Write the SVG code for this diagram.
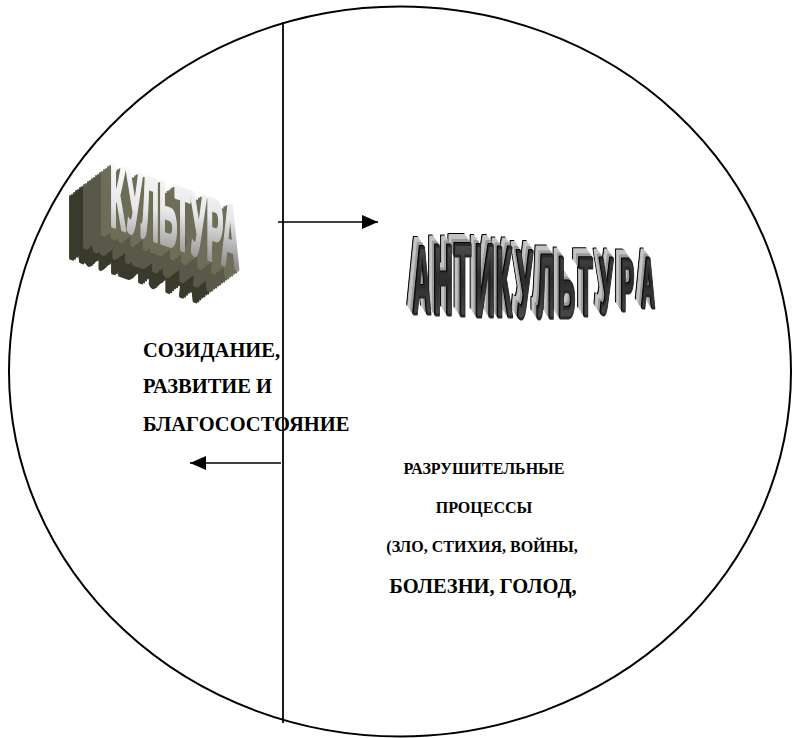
<svg xmlns="http://www.w3.org/2000/svg" width="793" height="738" viewBox="0 0 793 738">
<style>
.lbl{font-family:"Liberation Serif","Times New Roman",serif;font-weight:bold;fill:#000}
.art{font-family:"Liberation Sans",Arial,sans-serif;font-weight:bold}
.conn{stroke:#000;stroke-width:1.6;fill:none}
</style>
<defs>
<marker id="ah" markerUnits="userSpaceOnUse" markerWidth="16" markerHeight="14" refX="16" refY="7" orient="auto">
<path d="M0,0 L16,7 L0,14 z" fill="#000"/>
</marker>
<linearGradient id="gK" x1="0" y1="0" x2="0.3" y2="1">
<stop offset="0" stop-color="#ffffff"/>
<stop offset="0.55" stop-color="#e8e8e8"/>
<stop offset="1" stop-color="#8e8e8e"/>
</linearGradient>
<linearGradient id="gA" x1="0" y1="0" x2="0" y2="1">
<stop offset="0" stop-color="#5e5e5e"/>
<stop offset="0.5" stop-color="#2c2c2c"/>
<stop offset="1" stop-color="#585858"/>
</linearGradient>
<filter id="extK" x="-45%" y="-20%" width="160%" height="170%" color-interpolation-filters="sRGB">
<feFlood flood-color="#3a3a2c" result="c1"/>
<feComposite in="c1" in2="SourceAlpha" operator="in" result="d"/>
<feFlood flood-color="#59594a" result="c2"/>
<feComposite in="c2" in2="SourceAlpha" operator="in" result="m"/>
<feFlood flood-color="#6d6d58" result="c3"/>
<feComposite in="c3" in2="SourceAlpha" operator="in" result="l"/>
<feOffset in="d" dx="-42" dy="32" result="o21"/>
<feOffset in="d" dx="-40" dy="30.5" result="o20"/>
<feOffset in="d" dx="-38" dy="29" result="o19"/>
<feOffset in="d" dx="-36" dy="27.4" result="o18"/>
<feOffset in="d" dx="-34" dy="25.9" result="o17"/>
<feOffset in="d" dx="-32" dy="24.4" result="o16"/>
<feOffset in="d" dx="-30" dy="22.9" result="o15"/>
<feOffset in="m" dx="-28" dy="21.3" result="o14"/>
<feOffset in="m" dx="-26" dy="19.8" result="o13"/>
<feOffset in="m" dx="-24" dy="18.3" result="o12"/>
<feOffset in="m" dx="-22" dy="16.8" result="o11"/>
<feOffset in="m" dx="-20" dy="15.2" result="o10"/>
<feOffset in="m" dx="-18" dy="13.7" result="o9"/>
<feOffset in="m" dx="-16" dy="12.2" result="o8"/>
<feOffset in="m" dx="-14" dy="10.7" result="o7"/>
<feOffset in="m" dx="-12" dy="9.1" result="o6"/>
<feOffset in="l" dx="-10" dy="7.6" result="o5"/>
<feOffset in="l" dx="-8" dy="6.1" result="o4"/>
<feOffset in="l" dx="-6" dy="4.6" result="o3"/>
<feOffset in="l" dx="-4" dy="3" result="o2"/>
<feOffset in="l" dx="-2" dy="1.5" result="o1"/>
<feMerge>
<feMergeNode in="o21"/><feMergeNode in="o20"/><feMergeNode in="o19"/><feMergeNode in="o18"/>
<feMergeNode in="o17"/><feMergeNode in="o16"/><feMergeNode in="o15"/><feMergeNode in="o14"/>
<feMergeNode in="o13"/><feMergeNode in="o12"/><feMergeNode in="o11"/><feMergeNode in="o10"/>
<feMergeNode in="o9"/><feMergeNode in="o8"/><feMergeNode in="o7"/><feMergeNode in="o6"/>
<feMergeNode in="o5"/><feMergeNode in="o4"/><feMergeNode in="o3"/><feMergeNode in="o2"/>
<feMergeNode in="o1"/><feMergeNode in="SourceGraphic"/>
</feMerge>
</filter>
<filter id="extA" x="-10%" y="-30%" width="120%" height="150%" color-interpolation-filters="sRGB">
<feFlood flood-color="#000000" result="c1"/>
<feComposite in="c1" in2="SourceAlpha" operator="in" result="k"/>
<feFlood flood-color="#c4c4c4" result="c2"/>
<feComposite in="c2" in2="SourceAlpha" operator="in" result="g"/>
<feFlood flood-color="#9a9a9a" result="c3"/>
<feComposite in="c3" in2="SourceAlpha" operator="in" result="g2"/>
<feOffset in="k" dx="-7" dy="-10" result="o8"/>
<feOffset in="g" dx="-6" dy="-8.6" result="o7"/>
<feOffset in="g" dx="-5" dy="-7.2" result="o6"/>
<feOffset in="g" dx="-4" dy="-5.8" result="o5"/>
<feOffset in="g2" dx="-3" dy="-4.3" result="o4"/>
<feOffset in="g2" dx="-2" dy="-2.9" result="o3"/>
<feOffset in="k" dx="-1" dy="-1.4" result="o1"/>
<feMerge>
<feMergeNode in="o8"/><feMergeNode in="o7"/><feMergeNode in="o6"/><feMergeNode in="o5"/>
<feMergeNode in="o4"/><feMergeNode in="o3"/><feMergeNode in="o1"/>
<feMergeNode in="SourceGraphic"/>
</feMerge>
</filter>
</defs>
<rect width="793" height="738" fill="#fff"/>
<ellipse id="circle" cx="400" cy="371.5" rx="391" ry="365" fill="none" stroke="#000" stroke-width="2"/>
<line id="divider" x1="283" y1="22" x2="283" y2="723" stroke="#000" stroke-width="1.8"/>
<g id="kultura" filter="url(#extK)">
<text class="art" x="0" y="0" font-size="88" fill="url(#gK)" stroke="url(#gK)" stroke-width="3" vector-effect="non-scaling-stroke" stroke-linejoin="round" transform="translate(110,225) skewY(19) scale(0.29,1)">КУЛЬТУРА</text>
</g>
<g id="antikultura" filter="url(#extA)">
<text class="art" fill="url(#gA)" stroke="#2a2a2a" stroke-width="3" vector-effect="non-scaling-stroke" stroke-linejoin="round" transform="translate(413,0) scale(0.27,1)"><tspan x="0" y="314" font-size="96">А</tspan><tspan x="77" y="315" font-size="100">Н</tspan><tspan x="154" y="316" font-size="103">Т</tspan><tspan x="231" y="317" font-size="103">И</tspan><tspan x="308" y="317" font-size="100">К</tspan><tspan x="385" y="318" font-size="96">У</tspan><tspan x="462" y="318" font-size="91">Л</tspan><tspan x="539" y="318" font-size="88">Ь</tspan><tspan x="616" y="316" font-size="84">Т</tspan><tspan x="693" y="314" font-size="80">У</tspan><tspan x="770" y="311" font-size="75">Р</tspan><tspan x="847" y="308" font-size="70">А</tspan></text>
</g>
<g id="left-text">
<text class="lbl" x="143" y="357" font-size="20.5">СОЗИДАНИЕ,</text>
<text class="lbl" x="143" y="393" font-size="20.5">РАЗВИТИЕ И</text>
<text class="lbl" x="143" y="431" font-size="20.5">БЛАГОСОСТОЯНИЕ</text>
</g>
<g id="right-text" text-anchor="middle">
<text class="lbl" x="484" y="474" font-size="16">РАЗРУШИТЕЛЬНЫЕ</text>
<text class="lbl" x="484" y="513" font-size="16">ПРОЦЕССЫ</text>
<text class="lbl" x="482" y="552" font-size="16">(ЗЛО, СТИХИЯ, ВОЙНЫ,</text>
<text class="lbl" x="483" y="593" font-size="20.5">БОЛЕЗНИ, ГОЛОД,</text>
</g>
<g id="connectors">
<line class="conn" x1="278" y1="222" x2="378" y2="222" marker-end="url(#ah)"/>
<line class="conn" x1="281" y1="463" x2="190" y2="463" marker-end="url(#ah)"/>
</g>
</svg>
